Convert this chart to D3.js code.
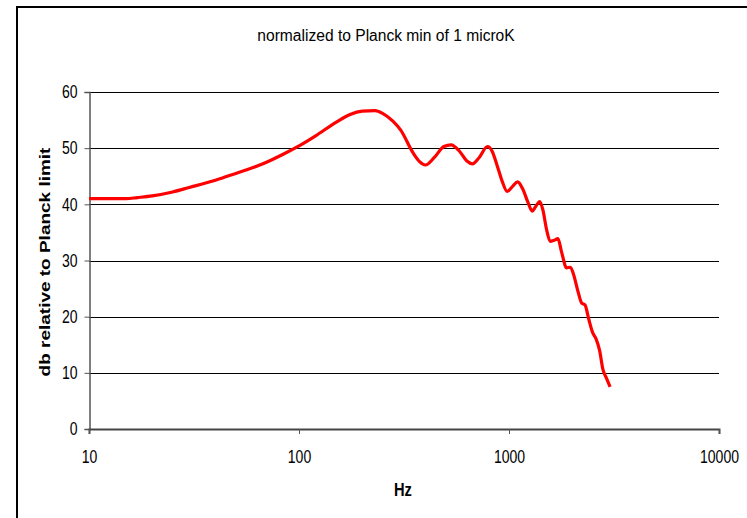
<!DOCTYPE html>
<html>
<head>
<meta charset="utf-8">
<script src="https://cdn.jsdelivr.net/npm/d3@7"></script>
<style>
  html, body { margin: 0; padding: 0; background: #fff; }
  svg { display: block; font-family: "Liberation Sans", Arial, sans-serif; }
</style>
</head>
<body>
<svg id="chart" width="747" height="518"></svg>
<script>
// Frequency (Hz) and level (dB relative to Planck limit)
const freqHz = [10, 12, 15, 17, 20, 25, 30, 40, 50, 60, 70, 85, 100, 120, 150, 175, 200, 230, 250, 280,
  305, 350, 375, 400, 440, 490, 530, 580, 630, 670, 720, 790, 830, 880, 930, 980, 1040, 1100, 1160, 1230,
  1290, 1340, 1400, 1450, 1510, 1570, 1640, 1710, 1780, 1880, 1960, 2030, 2130, 2220, 2300, 2400, 2500,
  2600, 2700, 2800, 2900, 3030];
const levelDb = [41, 41, 41, 41.2, 41.5, 42.2, 43.0, 44.3, 45.5, 46.5, 47.5, 49.0, 50.4, 52.2, 54.6, 56.0,
  56.6, 56.7, 56.2, 54.8, 53.2, 49.1, 47.6, 47.0, 48.3, 50.3, 50.6, 49.5, 47.7, 47.2, 48.3, 50.3, 49.5,
  46.8, 44.0, 42.3, 43.2, 44.0, 42.8, 40.4, 38.8, 39.6, 40.5, 39.0, 35.5, 33.4, 33.6, 33.9, 31.5, 28.7,
  28.8, 27.5, 24.5, 22.4, 22.1, 19.5, 17.2, 16.0, 14.0, 10.6, 9.2, 7.5];
const yTicks = [0, 10, 20, 30, 40, 50, 60];
const xTicks = [10, 100, 1000, 10000];
const titleText = "normalized to Planck min of 1 microK";
const xTitle = "Hz";
const yTitle = "db relative to Planck limit";

const svg = d3.select("#chart");
const plot = { left: 89, right: 719, top: 92, bottom: 429 };
const squeeze = 0.78; // horizontal text compression

const x = d3.scaleLog().domain([10, 10000]).range([plot.left, plot.right]);
const y = d3.scaleLinear().domain([0, 60]).range([plot.bottom, plot.top]);

// outer frame
svg.append("rect")
  .attr("x", 17).attr("y", 7).attr("width", 760).attr("height", 540)
  .attr("fill", "none").attr("stroke", "#000").attr("stroke-width", 2);

// horizontal gridlines
svg.append("g").selectAll("line")
  .data(yTicks.filter(d => d > 0))
  .join("line")
  .attr("x1", plot.left).attr("x2", plot.right)
  .attr("y1", d => Math.round(y(d)) + 0.5).attr("y2", d => Math.round(y(d)) + 0.5)
  .attr("stroke", "#000").attr("stroke-width", 1.2);

// y axis
const yAxis = svg.append("g")
  .attr("transform", `translate(${plot.left + 0.5},0)`)
  .call(d3.axisLeft(y).tickValues(yTicks).tickSize(5).tickFormat(d3.format("d")));
yAxis.select(".domain").attr("stroke", "#555").attr("stroke-width", 1.5);
yAxis.selectAll(".tick line").attr("stroke", "#555");
yAxis.selectAll("text")
  .attr("font-size", 18).attr("fill", "#000")
  .attr("font-family", "Liberation Sans, Arial, sans-serif")
  .attr("x", -12 / squeeze)
  .attr("transform", `scale(${squeeze},1)`);

// x axis
const xAxis = svg.append("g")
  .attr("transform", `translate(0,${plot.bottom})`)
  .call(d3.axisBottom(x).tickValues(xTicks).tickSize(5).tickPadding(16).tickFormat(d3.format("d")));
xAxis.select(".domain").attr("stroke", "#444").attr("stroke-width", 2);
xAxis.selectAll(".tick line").attr("stroke", "#555");
xAxis.selectAll("text")
  .attr("font-size", 18).attr("fill", "#000")
  .attr("font-family", "Liberation Sans, Arial, sans-serif")
  .attr("transform", `scale(${squeeze},1)`);

// data line
const pts = freqHz.map((f, i) => [f, levelDb[i]]);
const line = d3.line()
  .x(d => x(d[0])).y(d => y(d[1]))
  .curve(d3.curveMonotoneX);
svg.append("path")
  .datum(pts)
  .attr("d", line)
  .attr("fill", "none")
  .attr("stroke", "#ff0000")
  .attr("stroke-width", 3.2)
  .attr("stroke-linejoin", "round")
  .attr("stroke-linecap", "butt");

// titles
svg.append("text")
  .attr("x", 386).attr("y", 41)
  .attr("text-anchor", "middle")
  .attr("font-size", 15.6)
  .text(titleText);

svg.append("text")
  .attr("transform", `translate(403,496) scale(0.83,1)`)
  .attr("text-anchor", "middle")
  .attr("font-size", 17.7).attr("font-weight", "bold")
  .text(xTitle);

svg.append("text")
  .attr("transform", `translate(50,262) scale(${squeeze},1) rotate(-90)`)
  .attr("text-anchor", "middle")
  .attr("font-size", 19).attr("font-weight", "bold")
  .text(yTitle);
</script>
</body>
</html>
